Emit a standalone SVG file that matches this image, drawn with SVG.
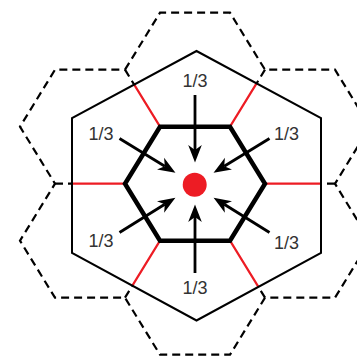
<svg xmlns="http://www.w3.org/2000/svg" width="357" height="357" viewBox="0 0 357 357">
  <style>
    .dash { fill: none; stroke: #000; stroke-width: 2.2; stroke-dasharray: 8 5; }
    .outer { fill: none; stroke: #000; stroke-width: 2; stroke-linejoin: miter; }
    .red { fill: none; stroke: #ed1c24; stroke-width: 2.2; }
    .inner { fill: none; stroke: #000; stroke-width: 4.5; stroke-linejoin: miter; }
    .arrow { fill: none; stroke: #000; stroke-width: 2.8; }
    .lbl { font-family: "Liberation Sans", Arial, sans-serif; font-size: 18px; fill: #333; text-anchor: middle; }
  </style>
  <defs>
    <marker id="ah" markerUnits="userSpaceOnUse" markerWidth="19" markerHeight="15" viewBox="0 -7.5 19 15" refX="5" refY="0" orient="auto">
      <path d="M17.5,0 L0,-6.8 L5,0 L0,6.8 Z" fill="#000"/>
    </marker>
    <clipPath id="outerClip">
      <polygon points="196.5,51 321,118 321,253 196.5,320.5 72,253 72,118"/>
    </clipPath>
  </defs>
  <rect width="357" height="357" fill="#fff"/>

  <g id="neighbor-cells">
    <path class="dash" d="M125,69.7 L160,12.7 L230,12.7 L265,69.7 L335,69.7 L370,126.7 L335,183.7 L370,240.7 L335,297.7 L265,297.7 L230,354.7 L160,354.7 L125,297.7 L55,297.7 L20,240.7 L55,183.7 L20,126.7 L55,69.7 Z"/>
    <path class="dash" d="M125,69.7 L160,126.7 M265,69.7 L230,126.7 M335,183.7 L265,183.7 M265,297.7 L230,240.7 M125,297.7 L160,240.7 M55,183.7 L125,183.7"/>
  </g>

  <g id="outer-cell">
    <polygon points="196.5,51 321,118 321,253 196.5,320.5 72,253 72,118" fill="#fff" stroke="none"/>
  </g>

  <g id="shared-edges" clip-path="url(#outerClip)">
    <path class="red" d="M160,126.7 L125,69.7 M230,126.7 L265,69.7 M265,183.7 L335,183.7 M230,240.7 L265,297.7 M160,240.7 L125,297.7 M125,183.7 L55,183.7"/>
  </g>

  <g id="outer-cell-border">
    <polygon class="outer" points="196.5,51 321,118 321,253 196.5,320.5 72,253 72,118"/>
  </g>

  <g id="center-cell">
    <polygon class="inner" points="125,183.7 160,126.7 230,126.7 265,183.7 230,240.7 160,240.7"/>
  </g>

  <g id="connectors">
    <line class="arrow" x1="195" y1="95" x2="195" y2="150" marker-end="url(#ah)"/>
    <line class="arrow" x1="195" y1="273" x2="195" y2="217" marker-end="url(#ah)"/>
    <line class="arrow" x1="119.5" y1="138.5" x2="164.8" y2="166.2" marker-end="url(#ah)"/>
    <line class="arrow" x1="269.5" y1="138.5" x2="224.2" y2="166.2" marker-end="url(#ah)"/>
    <line class="arrow" x1="119.5" y1="232.5" x2="164.8" y2="204.3" marker-end="url(#ah)"/>
    <line class="arrow" x1="269.5" y1="232.5" x2="224.2" y2="204.3" marker-end="url(#ah)"/>
  </g>

  <g id="center-point">
    <circle cx="194.7" cy="184.7" r="12" fill="#ed1c24"/>
  </g>

  <g id="labels">
    <text class="lbl" x="195" y="87">1/3</text>
    <text class="lbl" x="195" y="293.5">1/3</text>
    <text class="lbl" x="101" y="140">1/3</text>
    <text class="lbl" x="101" y="247">1/3</text>
    <text class="lbl" x="286.5" y="140">1/3</text>
    <text class="lbl" x="286.5" y="248.5">1/3</text>
  </g>
</svg>
